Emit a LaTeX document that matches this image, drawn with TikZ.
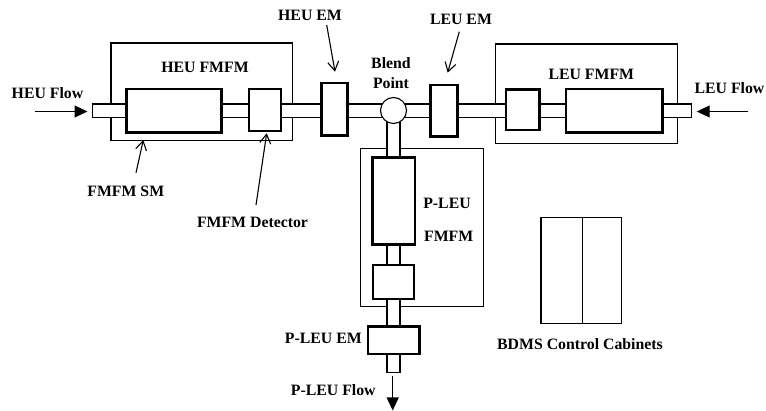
\documentclass[tikz,border=0pt]{standalone}
\usepackage{fontspec}
\setmainfont{Liberation Serif}
\usetikzlibrary{arrows.meta}
\begin{document}
\begin{tikzpicture}[x=1pt,y=-1pt,
  thin line/.style={line width=1.1pt},
  outerbox/.style={draw,thin line,fill=white,inner sep=0pt,outer sep=0pt},
  innerbox/.style={draw,line width=2.6pt,fill=white,inner sep=0pt,outer sep=0pt},
  pipe/.style={draw,thin line,fill=white},
  lbl/.style={font=\fontsize{15.8}{20}\selectfont\bfseries,inner sep=0pt,align=center},
  callout/.style={thin line,-{Straight Barb[length=9pt,width=11pt,line width=1.1pt]}},
  flow/.style={thin line,-{Triangle[length=13pt,width=12pt]}}]
\useasboundingbox (0,0) rectangle (766,411);
% outer boxes
\node[outerbox,minimum width=181.7pt,minimum height=97.7pt] (heuOuter) at (201.85,91.85) {};
\node[outerbox,minimum width=182pt,minimum height=99.3pt] (leuOuter) at (586.7,93.65) {};
\node[outerbox,minimum width=123pt,minimum height=158.4pt] (pleuOuter) at (421.8,227.5) {};
% pipes
\coordinate (pipeL) at (92.5,110.75);
\coordinate (pipeR) at (691.7,110.75);
\coordinate (pipeB) at (393.5,372.7);
\path[pipe] (92.5,104) rectangle (691.7,117.5);
\path[pipe] (387,110) rectangle (400,372.7);
% inner boxes
\node[innerbox,minimum width=95pt,minimum height=43.3pt] (heuSM) at (174.2,110.65) {};
\node[innerbox,minimum width=32pt,minimum height=42pt] (heuDet) at (265,110) {};
\node[innerbox,minimum width=26pt,minimum height=52.7pt] (heuEM) at (334.7,109.35) {};
\node[draw,thin line,fill=white,circle,minimum size=26pt,inner sep=0pt] (blend) at (393.5,110.5) {};
\node[innerbox,minimum width=26.6pt,minimum height=51.7pt] (leuEM) at (444,110.85) {};
\node[innerbox,minimum width=33.3pt,minimum height=40.7pt] (leuDet) at (522.65,109.65) {};
\node[innerbox,minimum width=96.7pt,minimum height=43.3pt] (leuSM) at (614.35,110.65) {};
\node[innerbox,minimum width=42.3pt,minimum height=87pt] (pleuSM) at (393.85,200.8) {};
\node[innerbox,minimum width=41pt,minimum height=34pt] (pleuDet) at (393.5,282) {};
\node[innerbox,minimum width=51.3pt,minimum height=27.3pt] (pleuEM) at (393.65,340.35) {};
% cabinets
\node[outerbox,minimum width=41.3pt,minimum height=106pt] (cabA) at (561.65,270.3) {};
\node[outerbox,minimum width=39.4pt,minimum height=106pt] (cabB) at (602,270.3) {};
% labels
\node[lbl] (tHeuFlow) at (47.5,93.5) {HEU Flow};
\node[lbl] (tHeuFMFM) at (205,67) {HEU FMFM};
\node[lbl] (tHeuEM) at (310,15) {HEU EM};
\node[lbl] (tBlend) at (391,73) {Blend\\Point};
\node[lbl] (tLeuEM) at (461,19.5) {LEU EM};
\node[lbl] (tLeuFMFM) at (591.3,74) {LEU FMFM};
\node[lbl] (tLeuFlow) at (729.5,88) {LEU Flow};
\node[lbl] (tSM) at (125.8,191.7) {FMFM SM};
\node[lbl] (tDet) at (252.5,222.7) {FMFM Detector};
\node[lbl] (tPleu) at (447,203.3) {P-LEU};
\node[lbl] (tPfmfm) at (448.7,236) {FMFM};
\node[lbl] (tPleuEM) at (323.3,338.3) {P-LEU EM};
\node[lbl] (tPleuFlow) at (333.3,390) {P-LEU Flow};
\node[lbl] (tCab) at (580,344) {BDMS Control Cabinets};
% callout arrows
\coordinate (aHeuEMs) at (326.7,25);  \coordinate (aHeuEMe) at (335,71.7);
\coordinate (aLeuEMs) at (459.3,31.7); \coordinate (aLeuEMe) at (447.7,72.7);
\coordinate (aSMs) at (136,172.7);    \coordinate (aSMe) at (143.3,140);
\coordinate (aDets) at (256,205);     \coordinate (aDete) at (266.7,133.3);
\draw[callout] (aHeuEMs) -- (aHeuEMe);
\draw[callout] (aLeuEMs) -- (aLeuEMe);
\draw[callout] (aSMs) -- (aSMe);
\draw[callout] (aDets) -- (aDete);
% flow arrows
\coordinate (fHeu) at (35,111.5);
\coordinate (fHeuTip) at (87.5,111.5);
\coordinate (fLeu) at (748.3,111.5);
\coordinate (fLeuTip) at (696.7,111.5);
\coordinate (fP) at (392.7,376);
\coordinate (fPTip) at (392.7,410.5);
\draw[flow] (fHeu) -- (fHeuTip);
\draw[flow] (fLeu) -- (fLeuTip);
\draw[flow] (fP) -- (fPTip);
\end{tikzpicture}
\end{document}
